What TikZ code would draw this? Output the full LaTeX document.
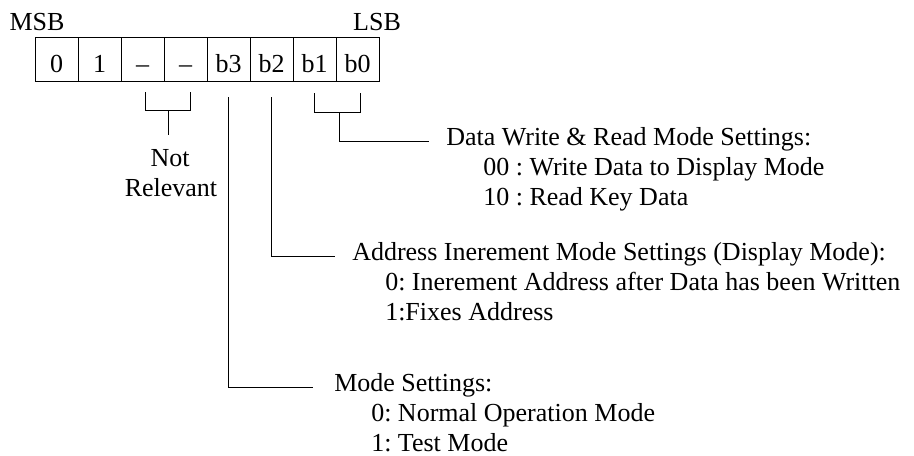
\documentclass[tikz,border=0pt]{standalone}
\usepackage{fontspec}
\setmainfont{Liberation Serif}
\usetikzlibrary{calc}
\frenchspacing

\begin{document}
\begin{tikzpicture}[x=0.75pt,y=0.75pt,yscale=-1,xscale=1,
  font=\fontsize{19.5pt}{22.5pt}\selectfont,
  bitcell/.style={draw, line width=0.75pt, minimum width=32.25pt, minimum height=32.8pt,
    inner sep=0pt, outer sep=0pt, text height=19.2pt, text depth=0pt},
  lbl/.style={inner sep=0.75pt},
  wire/.style={line width=0.75pt}]
\useasboundingbox (0,0) rectangle (914,455);
% Register cells
\node[bitcell] (c1) at (56.5,59.2) {0};
\node[bitcell] (c2) at (99.5,59.2) {1};
\node[bitcell] (c3) at (142.5,59.2) {--};
\node[bitcell] (c4) at (185.5,59.2) {--};
\node[bitcell] (c5) at (228.5,59.2) {b3};
\node[bitcell] (c6) at (271.5,59.2) {b2};
\node[bitcell] (c7) at (314.5,59.2) {b1};
\node[bitcell] (c8) at (357.5,59.2) {b0};
% Text Node
\node[lbl, anchor=base] (msb) at (37,30) {MSB};
% Text Node
\node[lbl, anchor=base] (lsb) at (377,30) {LSB};
% Text Node
\node[lbl, anchor=base] (nrA) at (170,166) {Not};
% Text Node
\node[lbl, anchor=base] (nrB) at (171,196) {Relevant};
% Text Node
\node[lbl, anchor=base west] (datahead) at (445,145) {Data Write \& Read Mode Settings:};
\node[lbl, anchor=base west] (data0) at (482,175) {00 : Write Data to Display Mode};
\node[lbl, anchor=base west] (data1) at (482,205) {10 : Read Key Data};
% Text Node
\node[lbl, anchor=base west] (addrhead) at (351,260) {Address Inerement Mode Settings (Display Mode):};
\node[lbl, anchor=base west] (addr0) at (384,290) {0: Inerement Address after Data has been Written};
\node[lbl, anchor=base west] (addr1) at (384,320) {1:Fixes Address};
% Text Node
\node[lbl, anchor=base west] (modehead) at (333,391) {Mode Settings:};
\node[lbl, anchor=base west] (mode0) at (370,421) {0: Normal Operation Mode};
\node[lbl, anchor=base west] (mode1) at (370,451) {1: Test Mode};
%Straight Lines
\draw[wire] ($(c3.south)+(3,11)$) -- ($(c3.south)+(3,29)$) -| ($(c4.south)+(5,11)$);
\draw[wire] ($(c3.south)!0.5!(c4.south)+(4,29)$) -- ($(c3.south)!0.5!(c4.south)+(4,54)$);
%Straight Lines
\draw[wire] ($(c5.south)+(0,16)$) |- ([xshift=-15pt]modehead.mid west);
%Straight Lines
\draw[wire] ($(c6.south)+(0,16)$) |- ([xshift=-12pt]addrhead.mid west);
%Straight Lines
\draw[wire] ($(c7.south)+(0,12)$) -- ($(c7.south)+(0,31)$) -| ($(c8.south)+(3,12)$);
\draw[wire] ($(c7.south)!0.5!(c8.south)+(3,31)$) |- ([xshift=-12pt]datahead.mid west);
\end{tikzpicture}
\end{document}
